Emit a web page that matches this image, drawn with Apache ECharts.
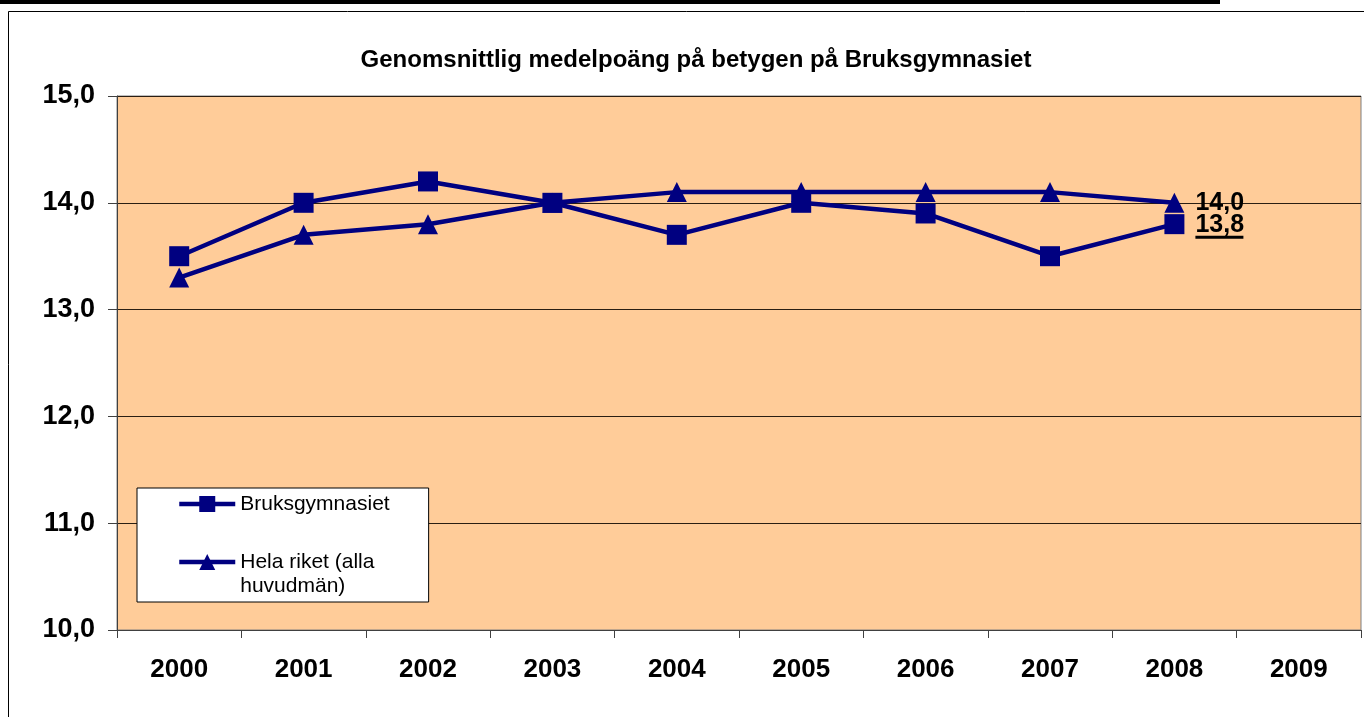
<!DOCTYPE html>
<html>
<head>
<meta charset="utf-8">
<script src="https://cdn.jsdelivr.net/npm/echarts@6/dist/echarts.min.js"></script>
<style>
  html, body { margin: 0; padding: 0; background: #fff; }
  #chart { width: 1364px; height: 717px; }
</style>
</head>
<body>
<div id="chart"></div>
<script>
// data
var years = ['2000', '2001', '2002', '2003', '2004', '2005', '2006', '2007', '2008', '2009'];
var bruks = [13.5, 14.0, 14.2, 14.0, 13.7, 14.0, 13.9, 13.5, 13.8, '-'];
var riket = [13.3, 13.7, 13.8, 14.0, 14.1, 14.1, 14.1, 14.1, 14.0, '-'];
var yTicks = [10, 11, 12, 13, 14, 15];
var lastIdx = 8;

var FONT = '"Liberation Sans", Arial, sans-serif';
var NAVY = '#000080';
var NAME_B = 'Bruksgymnasiet';
var NAME_R = 'Hela riket (alla\nhuvudmän)';

function fmt(v) {
  return Number(v).toFixed(1).replace('.', ',');
}

var chart = echarts.init(document.getElementById('chart'));

var option = {
  animation: false,
  textStyle: { fontFamily: FONT },
  title: {
    text: 'Genomsnittlig medelpoäng på betygen på Bruksgymnasiet',
    left: 691,
    textAlign: 'center',
    top: 43,
    textStyle: { fontFamily: FONT, fontSize: 24, fontWeight: 'bold', color: '#000' }
  },
  graphic: [
    { type: 'rect', shape: { x: 0, y: 0, width: 1220, height: 4 }, style: { fill: '#000' } },
    { type: 'rect', shape: { x: 8.5, y: 11.5, width: 1400, height: 800 }, style: { fill: 'none', stroke: '#000', lineWidth: 1 } }
  ],
  grid: {
    left: 117, top: 96, right: 3, bottom: 87,
    show: true,
    backgroundColor: '#FFCC99',
    borderColor: '#808080',
    borderWidth: 1
  },
  legend: {
    left: 137,
    top: 488,
    orient: 'vertical',
    backgroundColor: '#fff',
    borderColor: '#000',
    borderWidth: 1,
    padding: [4, 39, 4, 40],
    itemGap: 10,
    itemWidth: 56,
    itemHeight: 20,
    lineStyle: { width: 4.5, color: NAVY },
    textStyle: { fontFamily: FONT, fontSize: 21, color: '#000', lineHeight: 24 },
    // leading blank line keeps the icon level with the first text line
    formatter: function (name) {
      return name === NAME_R ? '\n' + name : name;
    },
    data: [NAME_B, NAME_R]
  },
  xAxis: {
    type: 'category',
    data: years,
    boundaryGap: true,
    axisLine: { lineStyle: { color: '#404040', width: 1 } },
    axisTick: { show: true, length: 8, lineStyle: { color: '#404040' } },
    axisLabel: { margin: 27, fontFamily: FONT, fontSize: 26, fontWeight: 'bold', color: '#000' },
    splitLine: { show: false }
  },
  yAxis: {
    type: 'value',
    min: yTicks[0],
    max: yTicks[yTicks.length - 1],
    interval: 1,
    axisLine: { show: true, lineStyle: { color: '#404040', width: 1 } },
    axisTick: { show: true, length: 9, lineStyle: { color: '#404040' } },
    axisLabel: { margin: 22, fontFamily: FONT, fontSize: 27, fontWeight: 'bold', color: '#000', formatter: fmt },
    splitLine: { show: true, lineStyle: { color: '#2a1e12', width: 1 } }
  },
  series: [
    {
      name: NAME_B,
      type: 'line',
      data: bruks,
      symbol: 'rect',
      symbolSize: 20,
      lineStyle: { color: NAVY, width: 4.5 },
      itemStyle: { color: NAVY },
      z: 3,
      label: {
        show: true,
        position: 'right',
        distance: 11,
        offset: [0, 2],
        formatter: function (p) {
          return p.dataIndex === lastIdx ? '{a|' + fmt(p.value) + '}\n{u|}' : '';
        },
        rich: {
          a: { fontFamily: FONT, fontSize: 25, fontWeight: 'bold', color: '#000', lineHeight: 22 },
          u: { width: 48, height: 3, backgroundColor: '#000' }
        }
      }
    },
    {
      name: NAME_R,
      type: 'line',
      data: riket,
      symbol: 'triangle',
      symbolSize: 20,
      lineStyle: { color: NAVY, width: 4.5 },
      itemStyle: { color: NAVY },
      z: 2,
      label: {
        show: true,
        position: 'right',
        distance: 11,
        formatter: function (p) {
          return p.dataIndex === lastIdx ? fmt(p.value) : '';
        },
        fontFamily: FONT, fontSize: 25, fontWeight: 'bold', color: '#000'
      }
    }
  ]
};

chart.setOption(option);
</script>
</body>
</html>
